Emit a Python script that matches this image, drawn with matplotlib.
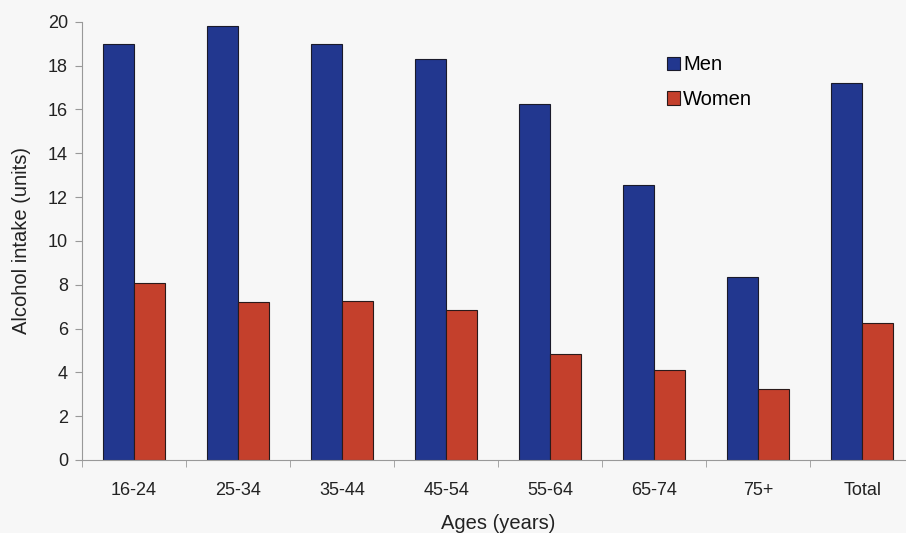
import matplotlib
matplotlib.use("Agg")
from matplotlib import pyplot as plt
import numpy as np

plt.rcParams['font.family'] = ['Liberation Sans', 'DejaVu Sans']

ages = ["16-24", "25-34", "35-44", "45-54", "55-64", "65-74", "75+", "Total"]
men = [19.0, 19.8, 19.0, 18.3, 16.25, 12.55, 8.35, 17.2]
women = [8.1, 7.2, 7.25, 6.85, 4.85, 4.1, 3.25, 6.25]

fig = plt.figure(figsize=(9.06, 5.33), dpi=100, facecolor="#f7f7f7")
ax = fig.add_axes([0.0905, 0.137, 0.9185, 0.822])
ax.set_facecolor("#f7f7f7")

x = np.arange(len(ages))
w = 0.30
ax.bar(x - w / 2, men, w, color="#22378f", edgecolor="#1a1a2a", linewidth=0.8, label="Men")
ax.bar(x + w / 2, women, w, color="#c4402c", edgecolor="#2a1a1a", linewidth=0.8, label="Women")

ax.set_xlim(-0.5, len(ages) - 0.5)
ax.set_ylim(0, 20)
ax.set_yticks(range(0, 21, 2))
ax.set_xticks(x)
ax.set_xticklabels(ages)
ax.set_xticks(np.arange(-0.5, len(ages), 1), minor=True)
ax.tick_params(axis="x", which="major", length=0, pad=16, labelsize=13, colors="#222222")
ax.tick_params(axis="x", which="minor", length=5, color="#999999", direction="out")
ax.tick_params(axis="y", length=5, color="#999999", labelsize=13, labelcolor="#222222", pad=5)

for s in ["top", "right"]:
    ax.spines[s].set_visible(False)
ax.spines["left"].set_color("#999999")
ax.spines["bottom"].set_color("#999999")

ax.set_xlabel("Ages (years)", fontsize=14.5, color="#222222", labelpad=11)
ax.set_ylabel("Alcohol intake (units)", fontsize=14.5, color="#222222", labelpad=12)

ax.legend(loc="upper left", bbox_to_anchor=(0.681, 0.965), frameon=False, fontsize=14.5,
          handlelength=0.65, handleheight=0.65, handletextpad=0.15, labelspacing=0.78)

fig.savefig("out.png", dpi=100, facecolor=fig.get_facecolor())
